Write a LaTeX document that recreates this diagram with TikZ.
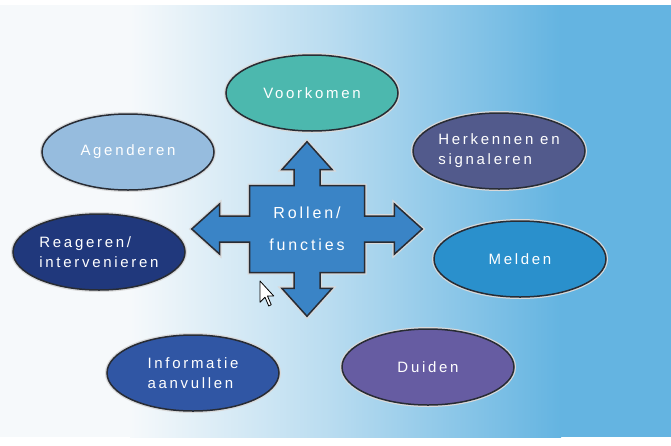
\documentclass[tikz,border=0pt]{standalone}
\usepackage{fontspec}
\usepackage{tikz}
\usetikzlibrary{shapes.geometric,shapes.arrows,positioning}
\newfontfamily\lblfont[LetterSpace=18]{Liberation Sans}

\definecolor{bg-blue}{RGB}{100,180,225}
\definecolor{bg-mid}{RGB}{185,220,240}
\definecolor{bg-white}{RGB}{246,249,251}
\definecolor{c-teal}{RGB}{76,184,174}
\definecolor{c-light}{RGB}{150,188,222}
\definecolor{c-slate}{RGB}{82,90,140}
\definecolor{c-navy}{RGB}{32,56,124}
\definecolor{c-sky}{RGB}{42,144,204}
\definecolor{c-royal}{RGB}{48,86,164}
\definecolor{c-purple}{RGB}{102,92,162}
\definecolor{c-cross}{RGB}{58,132,198}
\definecolor{c-edge}{RGB}{40,44,52}

\begin{document}
\begin{tikzpicture}[
x=1pt, y=-1pt,
task-node/.style = {ellipse, draw=c-edge, line width=1.5pt,
  preaction={draw=white!85!black, line width=4pt},
  minimum width=172pt, minimum height=76pt, inner sep=0pt,
  text=white, align=left, font=\lblfont\fontsize{15}{20}\selectfont},
role-node/.style = {arrow box, draw=c-edge, line width=1.5pt,
  preaction={draw=white!85!black, line width=4pt}, fill=c-cross,
  minimum width=115pt, minimum height=87pt, inner sep=0pt,
  arrow box arrows={north:43pt, south:43pt, east:57pt, west:57pt},
  arrow box shaft width=26pt, arrow box head extend=12pt,
  arrow box tip angle=84,
  text=white, align=center, font=\lblfont\fontsize{16}{32}\selectfont}
]
\useasboundingbox (0,0) rectangle (671,445);

% background
\fill[white] (0,0) rectangle (671,445);
\fill[bg-white] (0,5) rectangle (131,437);
\shade[left color=bg-white, right color=bg-mid] (130,5) rectangle (331,437);
\shade[left color=bg-mid, right color=bg-blue] (330,5) rectangle (561,437);
\fill[bg-blue] (560,5) rectangle (671,437);

% tasks
\node [task-node, fill=c-teal] (voorkomen) at (312, 93) {Voorkomen};
\node [task-node, fill=c-light] (agenderen) at (128, 152) {Agenderen};
\node [task-node, fill=c-slate] (herkennen) at (499, 151) {Herkennen en\\signaleren};
\node [task-node, fill=c-navy] (reageren) at (99, 252) {Reageren/\\intervenieren};
\node [task-node, fill=c-sky] (melden) at (520, 259) {Melden};
\node [task-node, fill=c-royal] (informatie) at (193, 373) {Informatie\\aanvullen};
\node [task-node, fill=c-purple] (duiden) at (428, 367) {Duiden};

% roles
\node [role-node] (rollen) at (307, 229) {Rollen/\\functies};

% pointer
\draw[fill=white, line width=0.8pt, line join=round, shift={(260,281)}, scale=1.25]
  (0,0) -- (0,17) -- (4,13) -- (7,20) -- (9,19) -- (6,12) -- (11,12) -- cycle;

\end{tikzpicture}
\end{document}
